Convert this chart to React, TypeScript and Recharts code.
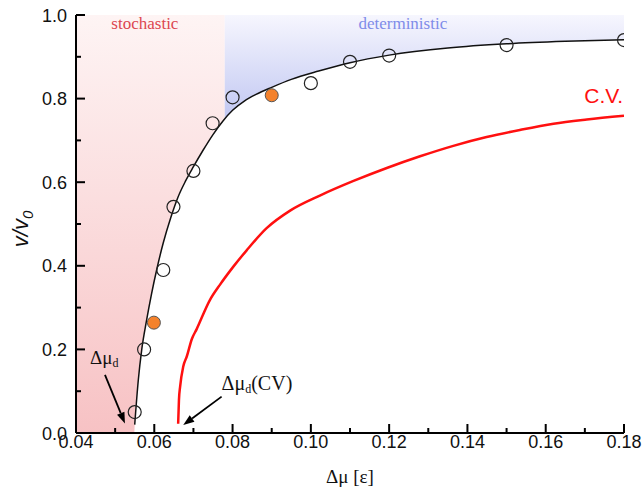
import React from 'react';
import { ComposedChart, Line, Area, Scatter, XAxis, YAxis, ReferenceLine, ReferenceDot, Label } from 'recharts';

// axis ticks (major + minor)
const xTicks = [0.04, 0.05, 0.06, 0.07, 0.08, 0.09, 0.1, 0.11, 0.12, 0.13, 0.14, 0.15, 0.16, 0.17, 0.18];
const yTicks = [0, 0.1, 0.2, 0.3, 0.4, 0.5, 0.6, 0.7, 0.8, 0.9, 1.0];

// fitted curve (black)
const fitX = [0.055, 0.0559, 0.0568, 0.058, 0.0593, 0.0606, 0.0623, 0.0642, 0.066, 0.068, 0.07, 0.0725, 0.075, 0.0775, 0.08, 0.083, 0.086, 0.09, 0.095, 0.102, 0.11, 0.12, 0.135, 0.15, 0.165, 0.18];
const fitY = [0.02, 0.125, 0.2, 0.268, 0.333, 0.39, 0.455, 0.515, 0.563, 0.603, 0.637, 0.677, 0.714, 0.746, 0.772, 0.794, 0.81, 0.827, 0.846, 0.866, 0.886, 0.904, 0.921, 0.931, 0.937, 0.941];

// C.V. curve (red)
const cvX = [0.0661, 0.0663, 0.0666, 0.0674, 0.0683, 0.0696, 0.0708, 0.0742, 0.0768, 0.0802, 0.0836, 0.0887, 0.0947, 0.1023, 0.1109, 0.1194, 0.1279, 0.1364, 0.1449, 0.1534, 0.162, 0.1705, 0.18];
const cvY = [0.022, 0.079, 0.111, 0.159, 0.183, 0.225, 0.248, 0.318, 0.355, 0.398, 0.437, 0.49, 0.532, 0.568, 0.603, 0.634, 0.662, 0.687, 0.708, 0.725, 0.74, 0.75, 0.759];

// simulation points
const openX = [0.055, 0.0574, 0.0623, 0.0649, 0.07, 0.0749, 0.08, 0.1, 0.11, 0.12, 0.15, 0.18];
const openY = [0.05, 0.2, 0.39, 0.541, 0.627, 0.741, 0.803, 0.837, 0.888, 0.903, 0.928, 0.94];
const filledX = [0.0599, 0.09];
const filledY = [0.264, 0.808];

const axisMin = 0.04;
const axisMax = 0.18;
const regionSplit = 0.078;

// tick lengths expressed in axis units (plot is ~548px by ~418px)
const xTickLen = { major: 9 / 418, minor: 5 / 418 };
const yTickLen = { major: 9 * 0.14 / 548, minor: 5 * 0.14 / 548 };

const fitData = fitX.map((x, i) => ({ x, y: fitY[i] }));
const cvData = cvX.map((x, i) => ({ x, y: cvY[i] }));
const openData = openX.map((x, i) => ({ x, y: openY[i] }));
const filledData = filledX.map((x, i) => ({ x, y: filledY[i] }));

// shaded regions follow the fitted curve, split at regionSplit
const si = fitX.findIndex((x) => x >= regionSplit);
const splitY = fitY[si - 1] + (fitY[si] - fitY[si - 1]) * ((regionSplit - fitX[si - 1]) / (fitX[si] - fitX[si - 1]));

const stochasticBand = [
  { x: axisMin, band: [0, 1] },
  { x: fitX[0] - 0.0001, band: [0, 1] },
  ...fitData.filter((d) => d.x < regionSplit).map((d) => ({ x: d.x, band: [d.y, 1] })),
  { x: regionSplit, band: [splitY, 1] },
];
const deterministicBand = [
  { x: regionSplit, band: [splitY, 1] },
  ...fitData.filter((d) => d.x > regionSplit).map((d) => ({ x: d.x, band: [d.y, 1] })),
];

const sans = '"Liberation Sans", Arial, sans-serif';
const serif = '"Liberation Serif", "Times New Roman", serif';

const isMajorX = (v: number) => Math.round(v * 100) % 2 === 0;
const isMajorY = (v: number) => Math.round(v * 10) % 2 === 0;

const openCircle = (p: any) => (
  <circle cx={p.cx} cy={p.cy} r={6.5} fill="none" stroke="#222" strokeWidth={1.2} />
);
const filledCircle = (p: any) => (
  <circle cx={p.cx} cy={p.cy} r={6.5} fill="#f4822c" stroke="#555" strokeWidth={1} />
);

const arrow = (p: any) => {
  const { x1, y1, x2, y2 } = p;
  const a = Math.atan2(y2 - y1, x2 - x1);
  const len = 11;
  const w = 4;
  const bx = x2 - len * Math.cos(a);
  const by = y2 - len * Math.sin(a);
  const nx = -Math.sin(a) * w;
  const ny = Math.cos(a) * w;
  return (
    <g>
      <line x1={x1} y1={y1} x2={bx} y2={by} stroke="#000" strokeWidth={1.8} />
      <polygon points={`${x2},${y2} ${bx + nx},${by + ny} ${bx - nx},${by - ny}`} fill="#000" />
    </g>
  );
};

const textAt = (content: React.ReactNode, opts: any, dx = 0, dy = 0) => (p: any) => (
  <text x={p.cx + dx} y={p.cy + dy} {...opts}>{content}</text>
);

export default function App() {
  return (
    <div style={{ position: 'absolute', left: 0, top: 0, width: 644, height: 492, background: '#fff' }}>
      <ComposedChart width={644} height={492} margin={{ top: 15, right: 20, left: 0, bottom: 0 }}>
        <defs>
          <linearGradient id="stochGrad" x1="0" y1="0" x2="0" y2="1">
            <stop offset="0%" stopColor="#fef4f4" />
            <stop offset="100%" stopColor="#f7c2c4" />
          </linearGradient>
          <linearGradient id="detGrad" x1="0" y1="0" x2="0" y2="1">
            <stop offset="0%" stopColor="#f6f6fe" />
            <stop offset="100%" stopColor="#c1c7f2" />
          </linearGradient>
        </defs>
        <XAxis
          type="number"
          dataKey="x"
          domain={[axisMin, axisMax]}
          ticks={xTicks}
          height={59}
          tick={false}
          tickLine={false}
          axisLine={false}
          allowDataOverflow
        >
          <Label
            content={(p: any) => (
              <text x={p.viewBox.x + p.viewBox.width / 2} y={p.viewBox.y + 50} textAnchor="middle" fontFamily={serif} fontSize={19} fill="#111">
                Δμ [ε]
              </text>
            )}
          />
        </XAxis>
        <YAxis
          type="number"
          domain={[0, 1]}
          ticks={yTicks}
          width={76}
          tick={false}
          tickLine={false}
          axisLine={false}
          allowDataOverflow
        >
          <Label
            content={(p: any) => {
              const cx = 28;
              const cy = p.viewBox.y + p.viewBox.height / 2 + 5;
              return (
                <text transform={`translate(${cx},${cy}) rotate(-90)`} textAnchor="middle" fontFamily={sans} fontSize={22} fontStyle="italic" fill="#111">
                  v/v<tspan fontSize={15} dy={5}>0</tspan>
                </text>
              );
            }}
          />
        </YAxis>
        <Area data={stochasticBand} dataKey="band" type="monotone" stroke="none" fill="url(#stochGrad)" fillOpacity={1} isAnimationActive={false} />
        <Area data={deterministicBand} dataKey="band" type="monotone" stroke="none" fill="url(#detGrad)" fillOpacity={1} isAnimationActive={false} />
        <Line data={fitData} dataKey="y" type="monotone" stroke="#111" strokeWidth={1.5} dot={false} isAnimationActive={false} />
        <Line data={cvData} dataKey="y" type="monotone" stroke="#ff1010" strokeWidth={2.5} dot={false} isAnimationActive={false} />
        <Scatter data={openData} dataKey="y" shape={openCircle} isAnimationActive={false} />
        <Scatter data={filledData} dataKey="y" shape={filledCircle} isAnimationActive={false} />

        {/* axis lines, inward ticks and tick labels */}
        <ReferenceLine segment={[{ x: axisMin, y: 0 }, { x: axisMax, y: 0 }]} stroke="#000" strokeWidth={2} />
        <ReferenceLine segment={[{ x: axisMin, y: 0 }, { x: axisMin, y: 1 }]} stroke="#000" strokeWidth={2} />
        {xTicks.map((v) => (
          <ReferenceLine
            key={`xt${v}`}
            segment={[{ x: v, y: 0 }, { x: v, y: isMajorX(v) ? xTickLen.major : xTickLen.minor }]}
            stroke="#000"
            strokeWidth={2}
          />
        ))}
        {yTicks.map((v) => (
          <ReferenceLine
            key={`yt${v}`}
            segment={[{ x: axisMin, y: v }, { x: axisMin + (isMajorY(v) ? yTickLen.major : yTickLen.minor), y: v }]}
            stroke="#000"
            strokeWidth={2}
          />
        ))}
        {xTicks.filter(isMajorX).map((v) => (
          <ReferenceDot
            key={`xl${v}`}
            x={v}
            y={0}
            r={0}
            ifOverflow="visible"
            shape={textAt(v.toFixed(2), { fontFamily: sans, fontSize: 18, fill: '#111', textAnchor: 'middle' }, 0, 15)}
          />
        ))}
        {yTicks.filter(isMajorY).map((v) => (
          <ReferenceDot
            key={`yl${v}`}
            x={axisMin}
            y={v}
            r={0}
            ifOverflow="visible"
            shape={textAt(v.toFixed(1), { fontFamily: sans, fontSize: 18, fill: '#111', textAnchor: 'end' }, -9, 6.5)}
          />
        ))}

        <ReferenceLine segment={[{ x: 0.0474, y: 0.139 }, { x: 0.0525, y: 0.023 }]} shape={arrow} />
        <ReferenceLine segment={[{ x: 0.0772, y: 0.087 }, { x: 0.0674, y: 0.019 }]} shape={arrow} />
        <ReferenceDot x={0.0436} y={0.165} r={0} shape={textAt(<>Δμ<tspan fontSize={12} dy={3}>d</tspan></>, { fontFamily: serif, fontSize: 19, fill: '#111' })} />
        <ReferenceDot x={0.0772} y={0.103} r={0} shape={textAt(<>Δμ<tspan fontSize={12} dy={3}>d</tspan><tspan dy={-3}>(CV)</tspan></>, { fontFamily: serif, fontSize: 20, fill: '#111' })} />
        <ReferenceDot x={0.0576} y={0.967} r={0} shape={textAt('stochastic', { fontFamily: serif, fontSize: 17, fill: '#dc4650', textAnchor: 'middle' })} />
        <ReferenceDot x={0.1235} y={0.967} r={0} shape={textAt('deterministic', { fontFamily: serif, fontSize: 17, fill: '#7f8ce9', textAnchor: 'middle' })} />
        <ReferenceDot x={0.1798} y={0.789} r={0} shape={textAt('C.V.', { fontFamily: sans, fontSize: 21, fill: '#ff1010', textAnchor: 'end' })} />
      </ComposedChart>
    </div>
  );
}
